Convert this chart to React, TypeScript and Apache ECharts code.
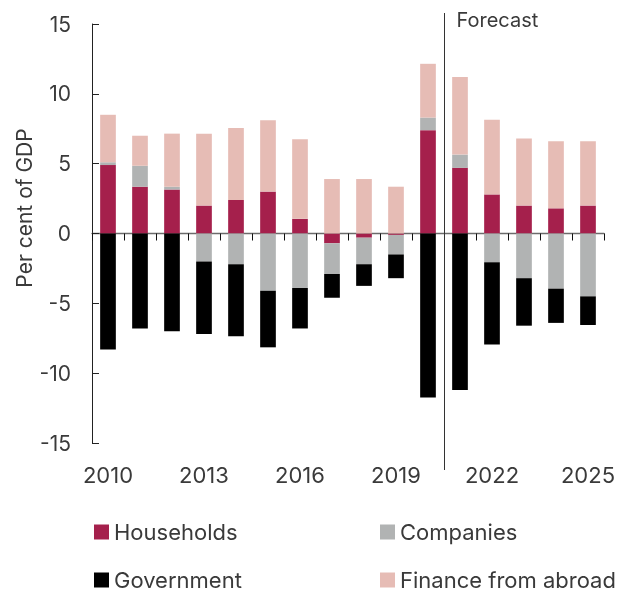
import React, { useEffect, useRef } from "react";
import * as echarts from "echarts";

const years = ["2010","2011","2012","2013","2014","2015","2016","2017","2018","2019","2020","2021","2022","2023","2024","2025"];
const households = [4.9, 3.35, 3.15, 2.0, 2.4, 3.0, 1.05, -0.7, -0.3, -0.1, 7.4, 4.7, 2.8, 2.0, 1.8, 2.0];
const companies = [0.2, 1.5, 0.2, -2.0, -2.2, -4.1, -3.9, -2.2, -1.9, -1.4, 0.9, 0.95, -2.05, -3.2, -3.95, -4.5];
const government = [-8.3, -6.8, -7.0, -5.2, -5.15, -4.05, -2.9, -1.7, -1.55, -1.7, -11.75, -11.2, -5.9, -3.4, -2.45, -2.05];
const finance = [3.4, 2.15, 3.8, 5.15, 5.15, 5.1, 5.7, 3.9, 3.9, 3.35, 3.85, 5.55, 5.35, 4.8, 4.8, 4.6];
const forecastStart = "2021";
const yTicks = { min: -15, max: 15, interval: 5 };

const FONT = "Inter, Liberation Sans, Arial, sans-serif";
const TXT = "#3a3a3a";
const COLORS = {
  Households: "#A5204C",
  Companies: "#B1B3B3",
  Government: "#000000",
  "Finance from abroad": "#E6BCB5",
};

export default function App() {
  const ref = useRef<HTMLDivElement>(null);
  useEffect(() => {
    if (!ref.current) return;
    const chart = echarts.init(ref.current, null, { renderer: "svg" });
    const mkSeries = (name: string, data: number[]) => ({
      name,
      type: "bar",
      stack: "total",
      data,
      barWidth: "49%",
      xAxisIndex: 0,
      itemStyle: { color: (COLORS as any)[name] },
    });
    const mkLegend = (name: string, left: number, top: number) => ({
      data: [name],
      left,
      top,
      padding: 0,
      icon: "rect",
      itemWidth: 15,
      itemHeight: 15,
      itemGap: 0,
      textStyle: { fontSize: 22, color: TXT, fontFamily: FONT },
      selectedMode: false,
    });
    chart.setOption({
      animation: false,
      grid: { left: 92, right: 24, top: 24, bottom: 151 },
      legend: [
        mkLegend("Households", 94, 521),
        mkLegend("Companies", 380, 521),
        mkLegend("Government", 94, 569),
        mkLegend("Finance from abroad", 380, 569),
      ],
      xAxis: [
        {
          type: "category",
          data: years,
          position: "bottom",
          axisLine: { show: false, onZero: false },
          axisTick: { show: false },
          axisLabel: { interval: 2, fontSize: 22, color: TXT, fontFamily: FONT, margin: 21 },
        },
        {
          type: "category",
          data: years,
          position: "bottom",
          axisLine: { show: true, onZero: true, onZeroAxisIndex: 0, lineStyle: { color: "#6b6b6b", width: 1.3 } },
          axisTick: { show: true, interval: 0, inside: false, length: 7, lineStyle: { color: "#111" } },
          axisLabel: { show: false },
        },
      ],
      yAxis: {
        type: "value",
        min: yTicks.min,
        max: yTicks.max,
        interval: yTicks.interval,
        splitLine: { show: false },
        axisLine: { show: true, lineStyle: { color: "#222" } },
        axisTick: { show: true, inside: true, length: 7, lineStyle: { color: "#222" } },
        axisLabel: { fontSize: 21, color: TXT, fontFamily: FONT, margin: 21 },
      },
      series: [
        mkSeries("Households", households),
        mkSeries("Companies", companies),
        mkSeries("Government", government),
        mkSeries("Finance from abroad", finance),
      ],
    });
    const idx = years.indexOf(forecastStart);
    const x1 = chart.convertToPixel({ xAxisIndex: 0 }, idx - 1) as number;
    const x2 = chart.convertToPixel({ xAxisIndex: 0 }, idx) as number;
    const xb = Math.round((x1 + x2) / 2) + 0.5;
    chart.setOption({
      graphic: [
        {
          type: "line",
          shape: { x1: xb, y1: 13, x2: xb, y2: 470 },
          style: { stroke: "#333", lineWidth: 1 },
          z: 10,
        },
        {
          type: "text",
          x: xb + 12,
          y: 20,
          style: { text: "Forecast", fontSize: 20, fill: TXT, fontFamily: FONT, textVerticalAlign: "middle" },
        },
        {
          type: "text",
          x: 24,
          y: 208,
          rotation: Math.PI / 2,
          style: {
            text: "Per cent of GDP",
            fontSize: 21,
            fill: TXT,
            fontFamily: FONT,
            textAlign: "center",
            textVerticalAlign: "middle",
          },
        },
      ],
    });
    return () => chart.dispose();
  }, []);
  return <div ref={ref} style={{ position: "fixed", left: 0, top: 0, width: 628, height: 594 }} />;
}
